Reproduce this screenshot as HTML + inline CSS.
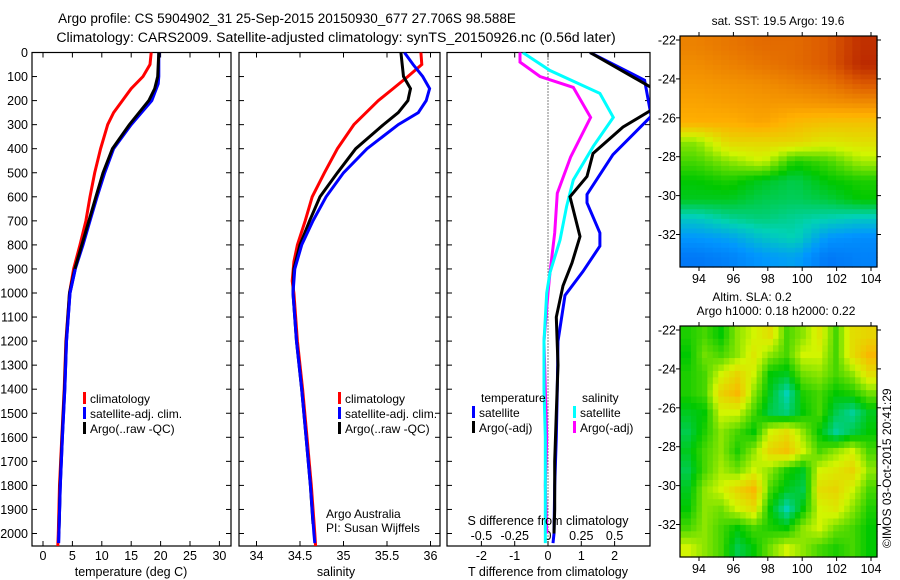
<!DOCTYPE html>
<html><head><meta charset="utf-8"><style>
body{margin:0;background:#fff;}
svg{display:block;font-family:"Liberation Sans",Arial,sans-serif;}
text{fill:#000;}
</style></head><body>
<svg id="fig" width="900" height="580" viewBox="0 0 900 580" xmlns="http://www.w3.org/2000/svg">
<text x="287" y="23" font-size="13.5" text-anchor="middle">Argo profile: CS 5904902_31 25-Sep-2015 20150930_677 27.706S 98.588E</text>
<text x="336" y="42" font-size="14.1" text-anchor="middle">Climatology: CARS2009. Satellite-adjusted climatology: synTS_20150926.nc (0.56d later)</text>
<g id="g1"></g>
<g id="g2"></g>
<g id="g3"></g>
<g id="m1"></g>
<g id="m2"></g>
<text x="778" y="25" font-size="12" text-anchor="middle">sat. SST: 19.5 Argo: 19.6</text>
<text x="752" y="301" font-size="12" text-anchor="middle">Altim. SLA: 0.2</text>
<text x="776" y="315" font-size="12" text-anchor="middle">Argo h1000: 0.18 h2000: 0.22</text>
<text x="0" y="0" font-size="12" transform="translate(891,548) rotate(-90)">©IMOS 03-Oct-2015 20:41:29</text>
<text x="326" y="518" font-size="12">Argo Australia</text>
<text x="326" y="532" font-size="12">PI: Susan Wijffels</text>
</svg>
<script>
// ---- data ----
const depthTicks=[0,100,200,300,400,500,600,700,800,900,1000,1100,1200,1300,1400,1500,1600,1700,1800,1900,2000];
const tTicks=[0,5,10,15,20,25,30];
const sTicks=[34,34.5,35,35.5,36];
const dTTicks=[-2,-1,0,1,2];
const dSTicks=[-0.5,-0.25,0,0.25,0.5];
const dSTickLabels=["-0.5","-0.25","0","0.25","0.5"];
const tempClimDepth=[0,50,100,150,200,250,300,400,500,600,700,800,900,1000,1200,1400,1600,1800,2000,2060];
const tempClim=[18.4,18.2,17,15,13.5,12,11,9.8,8.8,8,7.3,6.3,5.2,4.5,3.9,3.6,3.2,2.8,2.6,2.5];
const tempSatDepth=[0,100,130,200,300,400,500,600,700,800,900,1000,1200,1400,1600,1800,2000,2040];
const tempSat=[19.7,19.7,19.6,18.5,15,12,10.5,9.2,8,6.8,5.5,4.6,4.0,3.7,3.3,2.95,2.7,2.65];
const tempArgoDepth=[0,100,150,200,300,400,500,600,700,800,900,1000,1200,1400,1600,1800,2000];
const tempArgo=[19.7,19.5,19,18,14.7,11.8,10.2,9,7.8,6.6,5.4,4.5,3.95,3.65,3.25,2.9,2.7];
const salClimDepth=[0,50,100,150,200,300,400,500,600,700,800,870,950,1000,1200,1400,1600,1800,2000,2060];
const salClim=[35.89,35.9,35.74,35.57,35.4,35.12,34.93,34.78,34.64,34.56,34.47,34.43,34.41,34.43,34.47,34.53,34.58,34.63,34.67,34.68];
const salSatDepth=[0,50,100,150,200,250,300,400,500,600,700,800,900,1000,1200,1400,1600,1800,2000,2040];
const salSat=[35.7,35.8,35.91,35.99,35.95,35.86,35.63,35.27,35.0,34.8,34.65,34.52,34.44,34.42,34.46,34.52,34.57,34.62,34.66,34.67];
const salArgoDepth=[0,100,150,200,250,300,400,500,600,700,800,900,1000,1200,1400,1600,1800,1960];
const salArgo=[35.66,35.69,35.77,35.74,35.63,35.46,35.14,34.93,34.73,34.61,34.5,34.43,34.42,34.46,34.52,34.57,34.62,34.65];
const dTSatDepth=[0,115,265,425,590,625,750,805,910,1010,1200,1400,1600,1800,2000,2040];
const dTSat=[1.26,2.9,3.1,1.95,1.17,1.17,1.56,1.56,1.05,0.51,0.3,0.28,0.25,0.2,0.18,0.15];
const dTArgoDepth=[0,145,240,310,420,515,600,765,875,970,1100,1300,1500,1700,1900,2000];
const dTArgo=[1.26,3.1,3.1,2.25,1.35,1.17,0.66,0.96,0.72,0.45,0.25,0.3,0.25,0.2,0.2,0.18];
const dSSatDepth=[0,75,170,270,390,530,640,780,915,1000,1200,1400,1600,1800,2000,2040];
const dSSat=[-0.19,0.015,0.39,0.49,0.34,0.19,0.14,0.09,0.015,-0.01,-0.03,-0.03,-0.02,-0.02,-0.02,-0.02];
const dSArgoDepth=[0,40,100,145,270,435,585,750,915,1000,1200,1400,1600,1800,2000];
const dSArgo=[-0.21,-0.21,-0.06,0.19,0.32,0.17,0.07,0.05,0.015,0,-0.03,-0.02,-0.01,-0.02,-0.01];
const mapLonTicks=[94,96,98,100,102,104];
const mapLatTicks=[-22,-24,-26,-28,-30,-32];
const sstGrid=[
[.78,.80,.82,.82,.85,.92],
[.76,.78,.80,.82,.85,.93],
[.74,.75,.76,.78,.80,.85],
[.72,.73,.74,.74,.75,.76],
[.70,.70,.72,.68,.66,.66],
[.50,.62,.62,.62,.58,.60],
[.45,.50,.55,.42,.45,.52],
[.40,.42,.38,.35,.40,.42],
[.38,.38,.35,.34,.36,.40],
[.26,.30,.32,.30,.28,.26],
[.18,.20,.25,.28,.18,.16],
[.12,.14,.18,.20,.12,.14]];
const slaGrid=[
[.42,.45,.40,.50,.55,.60,.45,.50,.58,.45,.60,.62],
[.40,.48,.45,.50,.58,.50,.45,.55,.55,.45,.60,.68],
[.42,.45,.55,.62,.55,.40,.38,.48,.50,.45,.50,.60],
[.42,.45,.62,.68,.50,.38,.28,.42,.45,.40,.42,.48],
[.38,.40,.55,.55,.45,.35,.32,.40,.45,.35,.30,.38],
[.35,.42,.50,.45,.40,.55,.60,.50,.40,.30,.35,.40],
[.38,.45,.50,.42,.50,.62,.66,.55,.45,.50,.55,.45],
[.35,.45,.52,.48,.55,.50,.42,.38,.55,.58,.62,.50],
[.38,.50,.55,.62,.68,.45,.38,.35,.60,.62,.55,.45],
[.40,.50,.48,.55,.60,.40,.28,.40,.55,.58,.50,.42],
[.45,.50,.45,.40,.45,.42,.40,.50,.55,.48,.45,.40],
[.55,.50,.45,.35,.40,.48,.55,.50,.45,.42,.45,.40]];

// ---- helpers ----
const NS="http://www.w3.org/2000/svg";
function mk(parent,tag,attrs){const e=document.createElementNS(NS,tag);for(const k in attrs)e.setAttribute(k,attrs[k]);parent.appendChild(e);return e;}
const TOP=52.5, BOT=546;
const yD=d=>TOP+d*0.2405;
function frame(g,x0,x1,y0,y1){
  const r=mk(g,'rect',{x:x0,y:y0,width:x1-x0,height:y1-y0,fill:'none',stroke:'#000','stroke-width':1.2});
  
  
}
function depthAxis(g,x0,x1,labels){
  depthTicks.forEach(d=>{const y=yD(d);
    mk(g,'line',{x1:x0,x2:x0+5,y1:y,y2:y,stroke:'#000'});
    mk(g,'line',{x1:x1,x2:x1-5,y1:y,y2:y,stroke:'#000'});
    if(labels){const t=mk(g,'text',{x:x0-4,y:y+4.5,'font-size':12.5,'text-anchor':'end'});t.textContent=d;
      
      }
  });
}
function xAxis(g,ticks,fx,labY,labs){
  ticks.forEach((v,i)=>{const x=fx(v);
    mk(g,'line',{x1:x,x2:x,y1:TOP,y2:TOP+5,stroke:'#000'});
    mk(g,'line',{x1:x,x2:x,y1:BOT,y2:BOT-5,stroke:'#000'});
    const t=mk(g,'text',{x:x,y:labY,'font-size':12.5,'text-anchor':'middle'});t.textContent=labs?labs[i]:v;
    
    
  });
}
function line(g,xs,ds,fx,color,name){
  const pts=xs.map((v,i)=>fx(v).toFixed(1)+','+yD(ds[i]).toFixed(1)).join(' ');
  const p=mk(g,'polyline',{points:pts,fill:'none',stroke:color,'stroke-width':3,'clip-path':'url(#clip'+g.id+')'});
  
  
}
function clip(g,x0,x1){const svg=document.getElementById('fig');
  let defs=svg.querySelector('defs')||mk(svg,'defs',{});
  const c=mk(defs,'clipPath',{id:'clip'+g.id});mk(c,'rect',{x:x0,y:TOP,width:x1-x0,height:BOT-TOP});}
function legend(g,x,y,items){
  items.forEach((it,i)=>{
    const r=mk(g,'rect',{x:x,y:y+i*15-11,width:3,height:12,fill:it[1]});
    
    
    const t=mk(g,'text',{x:x+7,y:y+i*15,'font-size':12});t.textContent=it[0];
    
    
  });
}
// ---- panel 1 ----
const g1=document.getElementById('g1');
const fT=v=>43+v*5.88;
clip(g1,32,231);
frame(g1,32,231,TOP,BOT); depthAxis(g1,32,231,true); xAxis(g1,tTicks,fT,560);
line(g1,tempClim,tempClimDepth,fT,'#f00','temp-climatology-line');
line(g1,tempSat,tempSatDepth,fT,'#00f','temp-satellite-line');
line(g1,tempArgo,tempArgoDepth,fT,'#000','temp-argo-line');
line(g1,tempSat.slice(10),tempSatDepth.slice(10),fT,'#00f','temp-satellite-line-deep');
legend(g1,83,403,[['climatology','#f00'],['satellite-adj. clim.','#00f'],['Argo(..raw -QC)','#000']]);
let t=mk(g1,'text',{x:131,y:576,'font-size':12.5,'text-anchor':'middle'});t.textContent='temperature (deg C)';


// ---- panel 2 ----
const g2=document.getElementById('g2');
const fS=v=>256.5+(v-34)*87;
clip(g2,239,440);
frame(g2,239,440,TOP,BOT); depthAxis(g2,239,440,false); xAxis(g2,sTicks,fS,560);
line(g2,salClim,salClimDepth,fS,'#f00','sal-climatology-line');
line(g2,salArgo,salArgoDepth,fS,'#000','sal-argo-line');
line(g2,salSat,salSatDepth,fS,'#00f','sal-satellite-line');
legend(g2,338,403,[['climatology','#f00'],['satellite-adj. clim.','#00f'],['Argo(..raw -QC)','#000']]);
t=mk(g2,'text',{x:336,y:576,'font-size':12.5,'text-anchor':'middle'});t.textContent='salinity';


// ---- panel 3 ----
const g3=document.getElementById('g3');
const fdT=v=>548+v*33.3;
const fdS=v=>548+v*133.2;
clip(g3,447,650);
frame(g3,447,650,TOP,BOT); depthAxis(g3,447,650,false); xAxis(g3,dTTicks,fdT,560);
dSTicks.forEach((v,i)=>{const tt=mk(g3,'text',{x:fdS(v),y:540,'font-size':12.5,'text-anchor':'middle'});tt.textContent=dSTickLabels[i];
  
  });
mk(g3,'line',{x1:fdT(0),x2:fdT(0),y1:TOP,y2:BOT,stroke:'#000','stroke-dasharray':'1,2'});
line(g3,dSArgo,dSArgoDepth,fdS,'#f0f','sal-diff-argo-line');
line(g3,dSSat,dSSatDepth,fdS,'#0ff','sal-diff-satellite-line');
line(g3,dTSat,dTSatDepth,fdT,'#00f','temp-diff-satellite-line');
line(g3,dTArgo,dTArgoDepth,fdT,'#000','temp-diff-argo-line');
t=mk(g3,'text',{x:481,y:402,'font-size':12});t.textContent='temperature';


t=mk(g3,'text',{x:582,y:402,'font-size':12});t.textContent='salinity';


legend(g3,472,417,[['satellite','#00f'],['Argo(-adj)','#000']]);
legend(g3,573,417,[['satellite','#0ff'],['Argo(-adj)','#f0f']]);
t=mk(g3,'text',{x:548,y:525,'font-size':12.5,'text-anchor':'middle'});t.textContent='S difference from climatology';


t=mk(g3,'text',{x:548,y:576,'font-size':12.5,'text-anchor':'middle'});t.textContent='T difference from climatology';


// ---- maps ----
function cmap(v){
  const stops=[[0,[0,60,230]],[0.18,[0,150,255]],[0.28,[0,210,180]],[0.4,[0,200,0]],[0.55,[210,245,0]],[0.7,[255,175,0]],[0.85,[220,90,0]],[1,[160,0,0]]];
  for(let i=1;i<stops.length;i++){if(v<=stops[i][0]){const a=stops[i-1],b=stops[i],f=(v-a[0])/(b[0]-a[0]);
    return 'rgb('+a[1].map((c,j)=>Math.round(c+(b[1][j]-c)*f)).join(',')+')';}}
  return 'rgb(160,0,0)';
}
function sample(grid,u,v){ // bilinear sample, u,v in cell units
  const R=grid.length,C=grid[0].length;
  const fr=Math.min(Math.max(v-0.5,0),R-1), fc=Math.min(Math.max(u-0.5,0),C-1);
  const r0=Math.floor(fr), c0=Math.floor(fc), r1=Math.min(r0+1,R-1), c1=Math.min(c0+1,C-1);
  const a=fr-r0,b=fc-c0;
  return grid[r0][c0]*(1-a)*(1-b)+grid[r0][c1]*(1-a)*b+grid[r1][c0]*a*(1-b)+grid[r1][c1]*a*b;
}
function map(id,grid,y0,y1,sub){
  const g=document.getElementById(id);
  const x0=680,x1=877;
  const fx=lon=>699+(lon-94)*17.2;
  const fy=lat=>y0+4+(-22-lat)*19.45;
  const rows=grid.length, cols=grid[0].length;
  const nr=rows*sub, nc=cols*sub;
  const cw=(x1-x0)/nc, ch=(y1-y0)/nr;
  for(let r=0;r<nr;r++)for(let c=0;c<nc;c++){
    const v=sample(grid,(c+0.5)/sub,(r+0.5)/sub);
    const rc=mk(g,'rect',{x:(x0+c*cw).toFixed(2),y:(y0+r*ch).toFixed(2),width:(cw+0.6).toFixed(2),height:(ch+0.6).toFixed(2),fill:cmap(v)});
    
    
  }
  mk(g,'rect',{x:x0,y:y0,width:x1-x0,height:y1-y0,fill:'none',stroke:'#000','stroke-width':1.2});
  mapLonTicks.forEach(l=>{const x=fx(l);mk(g,'line',{x1:x,x2:x,y1:y0,y2:y0-4,stroke:'#000'});
    mk(g,'line',{x1:x,x2:x,y1:y1,y2:y1+4,stroke:'#000'});
    const tt=mk(g,'text',{x:x,y:y1+16,'font-size':12.5,'text-anchor':'middle'});tt.textContent=l;
    
    });
  mapLatTicks.forEach(l=>{const y=fy(l);mk(g,'line',{x1:x0,x2:x0-4,y1:y,y2:y,stroke:'#000'});
    mk(g,'line',{x1:x1,x2:x1+4,y1:y,y2:y,stroke:'#000'});
    const tt=mk(g,'text',{x:x0-4,y:y+4.5,'font-size':12.5,'text-anchor':'end'});tt.textContent=l;
    
    });
}
map('m1',sstGrid,36,267,4);
map('m2',slaGrid,326,557,3);
</script>
</body></html>
